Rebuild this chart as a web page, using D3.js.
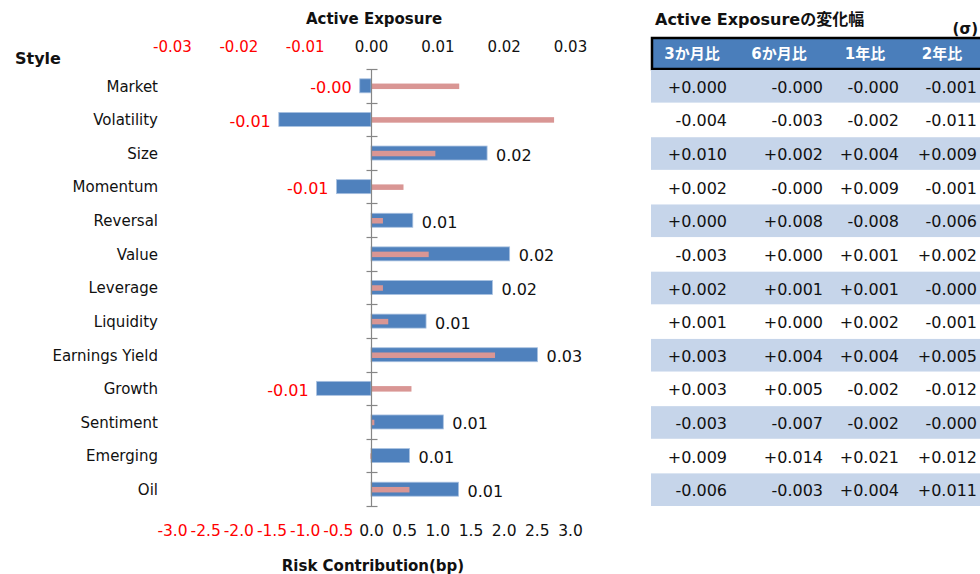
<!DOCTYPE html>
<html>
<head>
<meta charset="utf-8">
<script src="https://cdn.jsdelivr.net/npm/d3@7"></script>
<style>
  body { margin: 0; background: #fff; }
  svg { display: block; font-family: "DejaVu Sans", "Noto Sans CJK JP", sans-serif; }
</style>
</head>
<body>
<div id="chart"></div>
<script>
// style factors
var styles = ["Market", "Volatility", "Size", "Momentum", "Reversal", "Value", "Leverage",
  "Liquidity", "Earnings Yield", "Growth", "Sentiment", "Emerging", "Oil"];
// active exposure (blue bars, top axis)
var exposure = [-0.0017, -0.0139, 0.0175, -0.0052, 0.0063, 0.0209, 0.0183,
  0.0083, 0.0251, -0.0082, 0.0109, 0.0058, 0.0132];
// risk contribution in bp (pink bars, bottom axis)
var riskContrib = [1.33, 2.76, 0.97, 0.49, 0.18, 0.87, 0.18,
  0.26, 1.87, 0.61, 0.05, -0.01, 0.58];
var exposureTicks = [-0.03, -0.02, -0.01, 0, 0.01, 0.02, 0.03];
var riskTicks = [-3.0, -2.5, -2.0, -1.5, -1.0, -0.5, 0, 0.5, 1.0, 1.5, 2.0, 2.5, 3.0];

// change table
var periods = ["3か月比", "6か月比", "1年比", "2年比"];
var chg3m = ["+0.000", "-0.004", "+0.010", "+0.002", "+0.000", "-0.003", "+0.002",
  "+0.001", "+0.003", "+0.003", "-0.003", "+0.009", "-0.006"];
var chg6m = ["-0.000", "-0.003", "+0.002", "-0.000", "+0.008", "+0.000", "+0.001",
  "+0.000", "+0.004", "+0.005", "-0.007", "+0.014", "-0.003"];
var chg1y = ["-0.000", "-0.002", "+0.004", "+0.009", "-0.008", "+0.001", "+0.001",
  "+0.002", "+0.004", "-0.002", "-0.002", "+0.021", "+0.004"];
var chg2y = ["-0.001", "-0.011", "+0.009", "-0.001", "-0.006", "+0.002", "-0.000",
  "-0.001", "+0.005", "-0.012", "-0.000", "+0.012", "+0.011"];

var width = 980, height = 574;
var svg = d3.select("#chart").append("svg")
  .attr("width", width)
  .attr("height", height);

var y = d3.scaleBand().domain(styles).range([69, 506]).padding(0);
var xExp = d3.scaleLinear().domain([-0.03, 0.03]).range([172, 570]);
var xRisk = d3.scaleLinear().domain([-3, 3]).range([172, 570]);

var blue = "#4f81bd", pink = "#d99694", red = "#ff0000";

// titles
svg.append("text").attr("x", 374).attr("y", 24).attr("text-anchor", "middle")
  .style("font-size", "15px").style("font-weight", "bold").attr("fill", "#111")
  .text("Active Exposure");
svg.append("text").attr("x", 15).attr("y", 64)
  .style("font-size", "16px").style("font-weight", "bold").attr("fill", "#111")
  .text("Style");
svg.append("text").attr("x", 373).attr("y", 571).attr("text-anchor", "middle")
  .style("font-size", "15px").style("font-weight", "bold").attr("fill", "#111")
  .text("Risk Contribution(bp)");

// top axis
var topAxis = svg.append("g")
  .attr("transform", "translate(0,44)")
  .call(d3.axisTop(xExp).tickValues(exposureTicks).tickSize(0).tickPadding(0)
    .tickFormat(d => d.toFixed(2)));
topAxis.select(".domain").remove();
topAxis.selectAll("text")
  .style("font-size", "15px").style("font-family", "DejaVu Sans")
  .attr("dy", "0.5em")
  .attr("fill", d => d < 0 ? red : "#111");

// bottom axis
var bottomAxis = svg.append("g")
  .attr("transform", "translate(0,525)")
  .call(d3.axisBottom(xRisk).tickValues(riskTicks).tickSize(0).tickPadding(0)
    .tickFormat(d => d.toFixed(1)));
bottomAxis.select(".domain").remove();
bottomAxis.selectAll("text")
  .style("font-size", "15.5px").style("font-family", "DejaVu Sans")
  .attr("fill", d => d < 0 ? red : "#111");

// category labels
var catAxis = svg.append("g")
  .attr("transform", "translate(158,1)")
  .call(d3.axisLeft(y).tickSize(0).tickPadding(0));
catAxis.select(".domain").remove();
catAxis.selectAll("text")
  .style("font-size", "15px").style("font-family", "DejaVu Sans")
  .attr("fill", "#111");

// blue bars
var rows = styles.map((s, i) => ({ style: s, exp: exposure[i], risk: riskContrib[i] }));
var blueH = 14, pinkH = 5.5;
svg.append("g").selectAll("rect")
  .data(rows).join("rect")
  .attr("x", d => Math.min(xExp(0), xExp(d.exp)))
  .attr("width", d => Math.abs(xExp(d.exp) - xExp(0)))
  .attr("y", d => y(d.style) + y.bandwidth() / 2 - blueH / 2)
  .attr("height", blueH)
  .attr("fill", blue)
  .attr("stroke", "#a9c1e0").attr("stroke-width", 0.8);

// pink bars
svg.append("g").selectAll("rect")
  .data(rows).join("rect")
  .attr("x", d => Math.min(xRisk(0), xRisk(d.risk)))
  .attr("width", d => Math.abs(xRisk(d.risk) - xRisk(0)))
  .attr("y", d => y(d.style) + y.bandwidth() / 2 - pinkH / 2 + 0.5)
  .attr("height", pinkH)
  .attr("fill", pink);

// value labels
svg.append("g").selectAll("text")
  .data(rows).join("text")
  .attr("x", d => d.exp < 0 ? xExp(d.exp) - 8 : xExp(d.exp) + 9)
  .attr("y", d => y(d.style) + y.bandwidth() / 2 + 7.5)
  .attr("text-anchor", d => d.exp < 0 ? "end" : "start")
  .style("font-size", "16px")
  .attr("fill", d => d.exp < 0 ? red : "#111")
  .text(d => d.exp.toFixed(2));

// vertical axis with cross ticks
var x0 = Math.round(xExp(0)) + 0.5;
svg.append("line")
  .attr("x1", x0).attr("x2", x0)
  .attr("y1", y.range()[0]).attr("y2", y.range()[1])
  .attr("stroke", "#868686").attr("stroke-width", 1.2);
var bounds = styles.map(s => y(s)).concat([y.range()[1]]);
svg.append("g").selectAll("line")
  .data(bounds).join("line")
  .attr("x1", x0 - 5).attr("x2", x0 + 6)
  .attr("y1", d => Math.round(d) + 0.5).attr("y2", d => Math.round(d) + 0.5)
  .attr("stroke", "#868686").attr("stroke-width", 1.2);

// ---- table ----
svg.append("text").attr("x", 655).attr("y", 25)
  .style("font-size", "16px").style("font-weight", "bold").attr("fill", "#111")
  .text("Active Exposureの変化幅");
svg.append("text").attr("x", 978).attr("y", 34).attr("text-anchor", "end")
  .style("font-size", "15px").style("font-weight", "bold").attr("fill", "#111")
  .text("(σ)");

var tableX = 651, tableRight = 982;
// header
svg.append("rect")
  .attr("x", tableX + 1).attr("y", 38)
  .attr("width", tableRight - tableX).attr("height", 31)
  .attr("fill", "#4a7ebb").attr("stroke", "#000").attr("stroke-width", 2.5);
var headCenters = [692, 779, 865, 942];
var colRights = [727, 823, 899, 977];
svg.append("g").selectAll("text")
  .data(periods).join("text")
  .attr("x", (d, i) => headCenters[i])
  .attr("y", 59)
  .attr("text-anchor", "middle")
  .style("font-size", "15px").style("font-weight", "bold")
  .attr("fill", "#fff")
  .text(d => d);

// row stripes
svg.append("g").selectAll("rect")
  .data(styles.filter((s, i) => i % 2 === 0)).join("rect")
  .attr("x", tableX).attr("y", d => y(d) + 1)
  .attr("width", tableRight - tableX).attr("height", y.bandwidth() - 1)
  .attr("fill", "#c6d5ea");

var columns = [chg3m, chg6m, chg1y, chg2y];
columns.forEach((col, ci) => {
  svg.append("g").selectAll("text")
    .data(col).join("text")
    .attr("x", colRights[ci])
    .attr("y", (d, i) => y(styles[i]) + y.bandwidth() / 2 + 7)
    .attr("text-anchor", "end")
    .style("font-size", "16px")
    .attr("fill", "#111")
    .text(d => d);
});
</script>
</body>
</html>
